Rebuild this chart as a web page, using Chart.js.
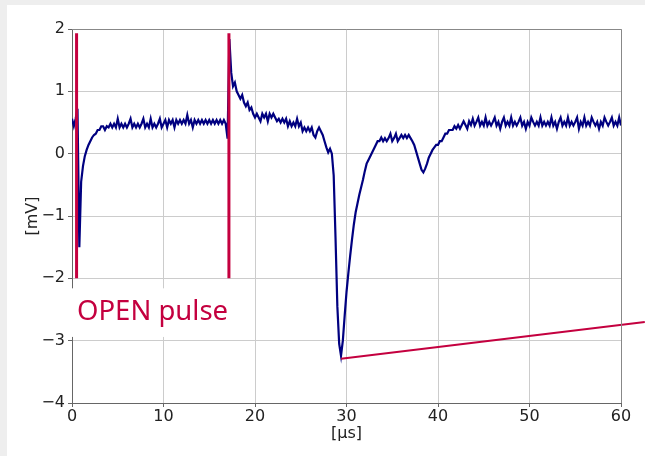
<!DOCTYPE html>
<html>
<head>
<meta charset="utf-8">
<script src="https://cdn.jsdelivr.net/npm/chart.js@4.4.1/dist/chart.umd.min.js"></script>
<style>
    html, body { margin: 0; padding: 0; width: 645px; height: 456px; overflow: hidden; background: #eeeeee; }
    #wrap { position: absolute; left: 7px; top: 5px; width: 638px; height: 451px; background: #ffffff; }
</style>
</head>
<body>
<div id="wrap"><canvas id="trace-chart" width="638" height="451"></canvas></div>
<script>
// scope capture, 0.2 µs per sample, values in mV
const SAMPLE_US = 0.2;
const signalMv = [
    0.56, 0.44, 0.56, 0.72, -1.5, -0.45, -0.2, -0.04, 0.06, 0.14,
    0.2, 0.26, 0.3, 0.32, 0.38, 0.38, 0.44, 0.44, 0.38, 0.44,
    0.42, 0.48, 0.42, 0.48, 0.42, 0.56, 0.42, 0.48, 0.42, 0.48,
    0.42, 0.48, 0.56, 0.42, 0.48, 0.42, 0.48, 0.42, 0.48, 0.56,
    0.42, 0.48, 0.42, 0.56, 0.42, 0.48, 0.42, 0.48, 0.56, 0.42,
    0.48, 0.54, 0.42, 0.54, 0.48, 0.54, 0.42, 0.54, 0.48, 0.54,
    0.48, 0.54, 0.48, 0.62, 0.48, 0.54, 0.42, 0.54, 0.48, 0.54,
    0.48, 0.54, 0.48, 0.54, 0.48, 0.54, 0.48, 0.54, 0.48, 0.54,
    0.48, 0.54, 0.48, 0.54, 0.48, 0.24, 1.84, 1.3, 1.08, 1.14,
    1.0, 0.94, 0.88, 0.94, 0.82, 0.76, 0.82, 0.7, 0.74, 0.64,
    0.58, 0.64, 0.58, 0.52, 0.64, 0.58, 0.64, 0.52, 0.64, 0.58,
    0.64, 0.58, 0.52, 0.56, 0.5, 0.56, 0.5, 0.56, 0.44, 0.52,
    0.44, 0.5, 0.44, 0.56, 0.44, 0.5, 0.36, 0.42, 0.36, 0.42,
    0.36, 0.42, 0.3, 0.26, 0.36, 0.42, 0.36, 0.3, 0.2, 0.1,
    0.02, 0.08, 0.0, -0.35, -1.35, -2.45, -3.05, -3.24, -3.0, -2.6,
    -2.22, -1.92, -1.64, -1.38, -1.14, -0.94, -0.8, -0.66, -0.54, -0.42,
    -0.28, -0.16, -0.1, -0.04, 0.02, 0.08, 0.14, 0.2, 0.2, 0.26,
    0.2, 0.25, 0.2, 0.25, 0.32, 0.2, 0.25, 0.32, 0.2, 0.25,
    0.3, 0.25, 0.3, 0.25, 0.3, 0.25, 0.2, 0.14, 0.04, -0.06,
    -0.16, -0.26, -0.3, -0.24, -0.16, -0.06, 0.0, 0.06, 0.1, 0.14,
    0.14, 0.2, 0.2, 0.26, 0.32, 0.32, 0.38, 0.38, 0.38, 0.44,
    0.4, 0.46, 0.4, 0.46, 0.52, 0.46, 0.4, 0.52, 0.46, 0.56,
    0.45, 0.51, 0.58, 0.45, 0.51, 0.45, 0.58, 0.45, 0.51, 0.45,
    0.51, 0.58, 0.45, 0.51, 0.4, 0.51, 0.58, 0.45, 0.51, 0.45,
    0.58, 0.45, 0.51, 0.45, 0.51, 0.58, 0.45, 0.51, 0.4, 0.51,
    0.45, 0.58, 0.51, 0.45, 0.51, 0.45, 0.58, 0.45, 0.51, 0.45,
    0.51, 0.45, 0.58, 0.45, 0.51, 0.4, 0.51, 0.58, 0.45, 0.51,
    0.45, 0.58, 0.45, 0.51, 0.45, 0.51, 0.58, 0.4, 0.51, 0.45,
    0.58, 0.45, 0.51, 0.45, 0.58, 0.51, 0.45, 0.51, 0.4, 0.51,
    0.45, 0.58, 0.51, 0.45, 0.51, 0.58, 0.45, 0.51, 0.45, 0.58,
    0.45,
];

// OPEN pulse edges (µs) and the marker span (mV)
const pulseEdgesUs = [0.5, 17.15];
const pulseSpanMv = [1.93, -2];

// callout from the label to the trough
const calloutUs = [29.4, 62.6];
const calloutMv = [-3.29, -2.7];

const xTicks = [0, 10, 20, 30, 40, 50, 60];
const yTicks = [-4, -3, -2, -1, 0, 1, 2];

const NAVY = "#000080";
const RED = "#c4003f";
const TICK_FONT = { family: "DejaVu Sans", size: 16 };

const tracePoints = signalMv.map((v, i) => ({ x: i * SAMPLE_US, y: v }));

const pulseDatasets = pulseEdgesUs.map((t) => ({
    data: pulseSpanMv.map((v) => ({ x: t, y: v })),
    borderColor: RED,
    borderWidth: 3,
    pointRadius: 0,
}));

const minus = (v) => String(v).replace("-", "\u2212");

const framePlugin = {
    id: "frame",
    afterDatasetsDraw(chart) {
        const { ctx, chartArea, scales } = chart;
        ctx.save();
        ctx.strokeStyle = "#888888";
        ctx.lineWidth = 1;
        ctx.beginPath();
        ctx.moveTo(chartArea.left, chartArea.top + 0.5);
        ctx.lineTo(chartArea.right + 0.5, chartArea.top + 0.5);
        ctx.lineTo(chartArea.right + 0.5, chartArea.bottom);
        ctx.stroke();

        // label box sits over the axis and the grid
        const x0 = scales.x.getPixelForValue(-0.7);
        const x1 = scales.x.getPixelForValue(18);
        const y0 = scales.y.getPixelForValue(-2.16);
        const y1 = scales.y.getPixelForValue(-2.94);
        ctx.fillStyle = "#ffffff";
        ctx.fillRect(x0, y0, x1 - x0, y1 - y0);

        ctx.fillStyle = RED;
        ctx.font = '28px "Noto Sans"';
        ctx.textBaseline = "alphabetic";
        ctx.textAlign = "left";
        ctx.fillText("OPEN pulse", scales.x.getPixelForValue(0.55), scales.y.getPixelForValue(-2.67), 151);
        ctx.restore();
    },
};

new Chart(document.getElementById("trace-chart"), {
    type: "line",
    data: {
        datasets: [
            ...pulseDatasets,
            {
                data: calloutUs.map((t, i) => ({ x: t, y: calloutMv[i] })),
                borderColor: RED,
                borderWidth: 2,
                pointRadius: 0,
                clip: false,
            },
            {
                data: tracePoints,
                borderColor: NAVY,
                borderWidth: 2.2,
                pointRadius: 0,
                tension: 0,
            },
        ],
    },
    options: {
        responsive: false,
        animation: false,
        layout: { padding: { top: 24, right: 24, left: 0, bottom: 0 } },
        plugins: { legend: { display: false }, tooltip: { enabled: false } },
        scales: {
            x: {
                type: "linear",
                min: 0,
                max: 60,
                afterBuildTicks: (scale) => {
                    scale.ticks = xTicks.map((v) => ({ value: v }));
                },
                afterFit: (scale) => {
                    scale.height = 53;
                },
                ticks: { font: TICK_FONT, color: "#222222", padding: 0, maxRotation: 0 },
                grid: { color: "#cccccc", tickColor: "#666666", tickLength: 4 },
                border: { color: "#666666" },
                title: {
                    display: true,
                    text: "[µs]",
                    font: TICK_FONT,
                    color: "#222222",
                    padding: { top: 0, bottom: 13 },
                },
            },
            y: {
                min: -4,
                max: 2,
                afterBuildTicks: (scale) => {
                    scale.ticks = yTicks.map((v) => ({ value: v }));
                },
                afterFit: (scale) => {
                    scale.width = 65;
                },
                ticks: { font: TICK_FONT, color: "#222222", padding: 3, callback: (v) => minus(v) },
                grid: { color: "#cccccc", tickColor: "#666666", tickLength: 4 },
                border: { color: "#666666" },
                title: {
                    display: true,
                    text: "[mV]",
                    font: TICK_FONT,
                    color: "#222222",
                    padding: { top: 16, bottom: 0 },
                },
            },
        },
    },
    plugins: [framePlugin],
});
</script>
</body>
</html>
